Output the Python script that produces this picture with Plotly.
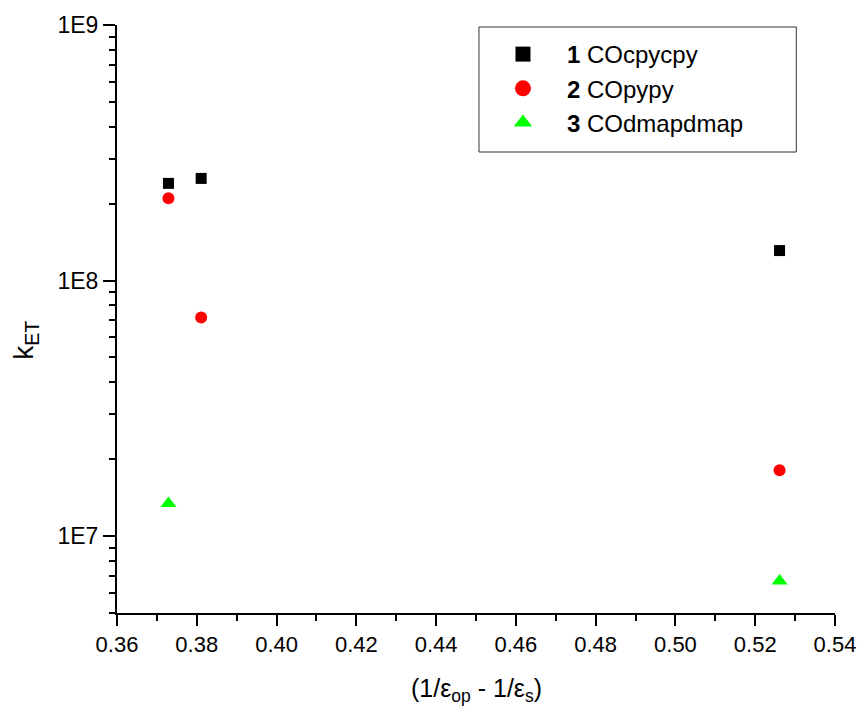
import plotly.graph_objects as go

# Solvent polarity parameter (1/eps_op - 1/eps_s) and electron-transfer rates
x_cpy = [0.3729, 0.3811, 0.5261]
k_cpy = [2.40e8, 2.51e8, 1.31e8]

x_py = [0.3729, 0.3811, 0.5261]
k_py = [2.10e8, 7.16e7, 1.81e7]

x_dmap = [0.3729, 0.5261]
k_dmap = [1.34e7, 6.67e6]

names = ["<b>1</b> COcpycpy", "<b>2</b> COpypy", "<b>3</b> COdmapdmap"]

y_tickvals = [1e7, 1e8, 1e9]
y_ticktext = ["1E7", "1E8", "1E9"]

FONT = "Arial, 'Liberation Sans', sans-serif"

series = [
    (x_cpy, k_cpy, names[0], "square", 11, 15, "black"),
    (x_py, k_py, names[1], "circle", 12, 16, "#ff0000"),
    (x_dmap, k_dmap, names[2], "triangle-up", 14, 18, "#00ff00"),
]

fig = go.Figure()
for xs, ys, nm, sym, size, legsize, col in series:
    # data markers
    fig.add_trace(go.Scatter(x=xs, y=ys, mode="markers", name=nm, showlegend=False,
                             legendgroup=nm,
                             marker=dict(symbol=sym, size=size, color=col)))
    # larger legend key for the same series
    fig.add_trace(go.Scatter(x=[None], y=[None], mode="markers", name=nm,
                             legendgroup=nm,
                             marker=dict(symbol=sym, size=legsize, color=col)))

L, R, T, B = 117, 27, 25, 102
W, H = 868, 715
pw, ph = W - L - R, H - T - B

def px_x(p):
    return (p - L) / pw

def px_y(p):
    return (H - B - p) / ph

fig.update_layout(
    width=W, height=H,
    margin=dict(l=L, r=R, t=T, b=B, pad=0),
    paper_bgcolor="white", plot_bgcolor="white",
    font=dict(family=FONT, color="black"),
    showlegend=True,
    legend=dict(
        x=px_x(482), y=px_y(32), xanchor="left", yanchor="top",
        borderwidth=0, bgcolor="rgba(0,0,0,0)",
        font=dict(size=24, family=FONT),
        itemwidth=78, tracegroupgap=0,
    ),
    shapes=[
        dict(type="rect", xref="paper", yref="paper",
             x0=px_x(482), x1=px_x(802), y0=px_y(152), y1=px_y(27),
             line=dict(color="#333333", width=1), fillcolor="white", layer="below"),
    ],
    xaxis=dict(
        range=[0.36, 0.54], dtick=0.02, tick0=0.36, tickformat=".2f",
        showline=True, linecolor="black", linewidth=2, mirror=False,
        ticks="outside", ticklen=11, tickwidth=2, tickcolor="black",
        tickfont=dict(size=22, family=FONT),
        minor=dict(ticks="outside", ticklen=6, tickwidth=2, dtick=0.01,
                   tickcolor="black", showgrid=False),
        showgrid=False, zeroline=False,
    ),
    yaxis=dict(
        type="log", range=[6.69897, 9],
        tickvals=y_tickvals, ticktext=y_ticktext,
        showline=True, linecolor="black", linewidth=2, mirror=False,
        ticks="outside", ticklen=12, tickwidth=2, tickcolor="black",
        tickfont=dict(size=23, family=FONT),
        minor=dict(ticks="outside", ticklen=6, tickwidth=2, dtick="D1",
                   tickcolor="black", showgrid=False),
        showgrid=False, zeroline=False,
    ),
    annotations=[
        dict(text="(1/ε<sub>op</sub> - 1/ε<sub>s</sub>)", xref="paper", yref="paper",
             x=px_x(479), y=px_y(690), xanchor="center", yanchor="middle",
             showarrow=False, font=dict(size=25, family=FONT)),
        dict(text="k<sub>ET</sub>", xref="paper", yref="paper",
             x=px_x(24), y=px_y(340), xanchor="center", yanchor="middle",
             textangle=-90, showarrow=False, font=dict(size=28, family=FONT)),
    ],
)

fig.write_html("out.html")
